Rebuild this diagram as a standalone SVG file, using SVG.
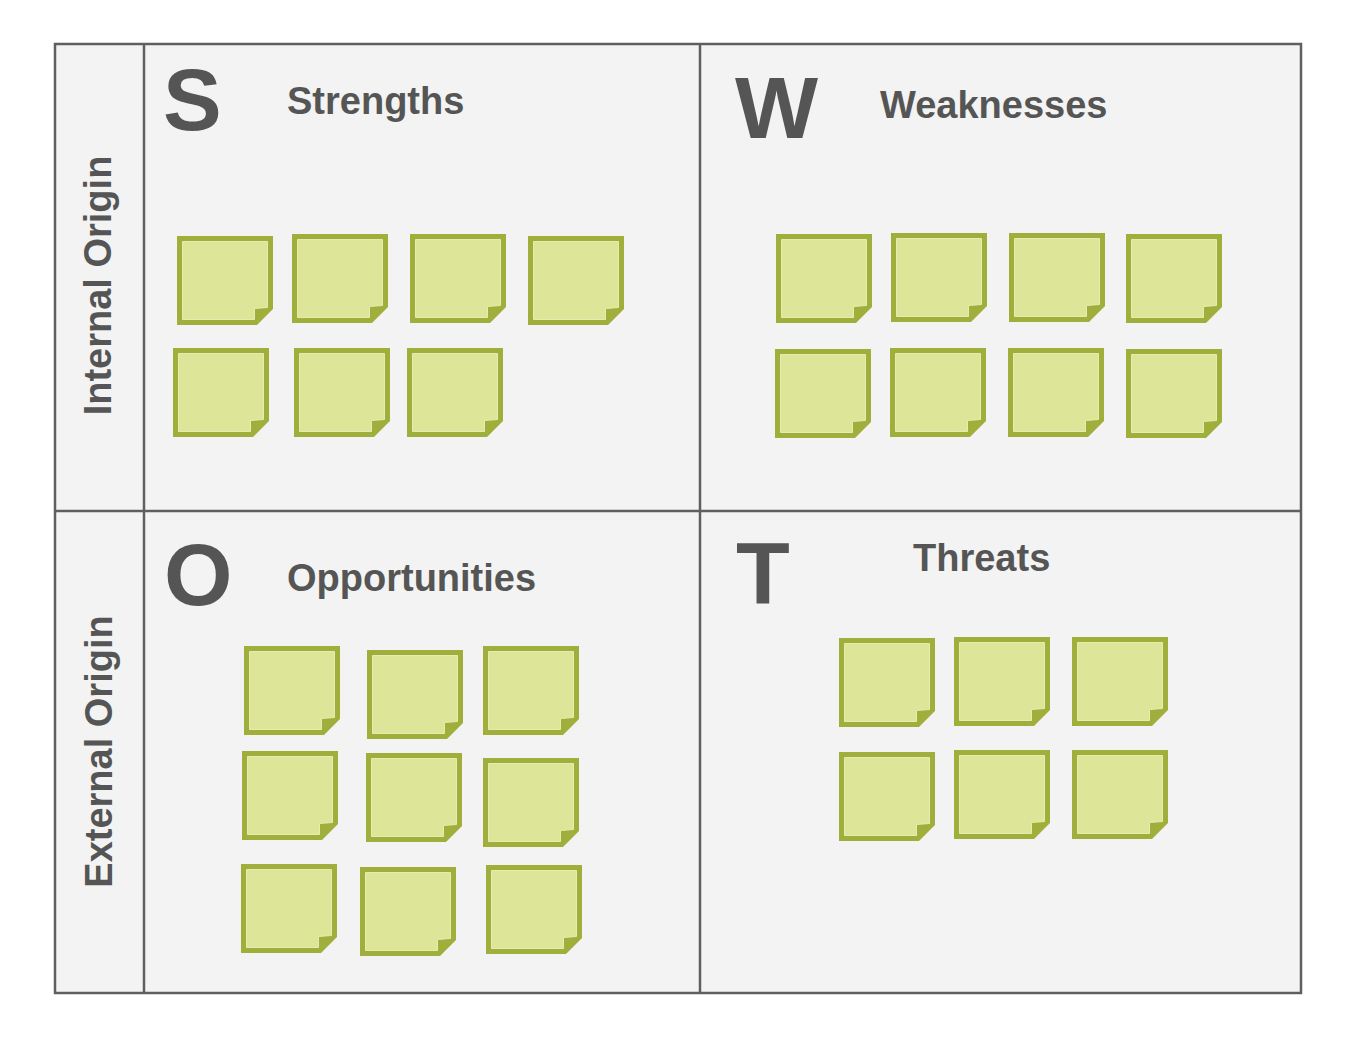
<svg xmlns="http://www.w3.org/2000/svg" width="1346" height="1042" viewBox="0 0 1346 1042">
<style>
.bg{fill:#ffffff}
.cell{fill:#f2f3f2}
.grid{stroke:#5f5f5f;stroke-width:2.5;fill:none}
.big{font-family:"Liberation Sans",Arial,sans-serif;font-weight:bold;font-size:88px;fill:#555555}
.title{font-family:"Liberation Sans",Arial,sans-serif;font-weight:bold;font-size:38px;fill:#555555}
.side{font-family:"Liberation Sans",Arial,sans-serif;font-weight:bold;font-size:38px;fill:#555555;text-anchor:middle}
.nout{fill:#a0af3b}
.nin{fill:#dde698;stroke:#e5ecb0;stroke-width:1}
</style>
<defs>
<g id="note">
<path class="nout" d="M0,0 H96 V73 L80,89 H0 Z"/>
<path class="nin" d="M5.5,5.5 H90.5 V71.5 L77.5,72.5 V83.5 H5.5 Z"/>
</g>
</defs>
<rect class="bg" x="0" y="0" width="1346" height="1042"/>
<g id="frame">
<rect class="cell" x="55" y="44" width="1246" height="949"/>
</g>
<g id="labels">
<g id="internal-origin"><text class="side" transform="translate(111,285.5) rotate(-90)">Internal Origin</text></g>
<g id="external-origin"><text class="side" transform="translate(112,751.5) rotate(-90)">External Origin</text></g>
</g>
<g id="strengths">
<text class="big" x="163" y="130">S</text>
<text class="title" x="287" y="114">Strengths</text>
<use href="#note" x="177" y="236"/>
<use href="#note" x="292" y="234"/>
<use href="#note" x="410" y="234"/>
<use href="#note" x="528" y="236"/>
<use href="#note" x="173" y="348"/>
<use href="#note" x="294" y="348"/>
<use href="#note" x="407" y="348"/>
</g>
<g id="weaknesses">
<text class="big" x="735" y="138">W</text>
<text class="title" x="880" y="118">Weaknesses</text>
<use href="#note" x="776" y="234"/>
<use href="#note" x="891" y="233"/>
<use href="#note" x="1009" y="233"/>
<use href="#note" x="1126" y="234"/>
<use href="#note" x="775" y="349"/>
<use href="#note" x="890" y="348"/>
<use href="#note" x="1008" y="348"/>
<use href="#note" x="1126" y="349"/>
</g>
<g id="opportunities">
<text class="big" x="164" y="605">O</text>
<text class="title" x="287" y="591">Opportunities</text>
<use href="#note" x="244" y="646"/>
<use href="#note" x="367" y="650"/>
<use href="#note" x="483" y="646"/>
<use href="#note" x="242" y="751"/>
<use href="#note" x="366" y="753"/>
<use href="#note" x="483" y="758"/>
<use href="#note" x="241" y="864"/>
<use href="#note" x="360" y="867"/>
<use href="#note" x="486" y="865"/>
</g>
<g id="threats">
<text class="big" x="736" y="603">T</text>
<text class="title" x="913" y="571">Threats</text>
<use href="#note" x="839" y="638"/>
<use href="#note" x="954" y="637"/>
<use href="#note" x="1072" y="637"/>
<use href="#note" x="839" y="752"/>
<use href="#note" x="954" y="750"/>
<use href="#note" x="1072" y="750"/>
</g>
<g id="connectors">
<rect class="grid" x="55" y="44" width="1246" height="949"/>
<line class="grid" x1="144" y1="44" x2="144" y2="993"/>
<line class="grid" x1="700" y1="44" x2="700" y2="993"/>
<line class="grid" x1="55" y1="511" x2="1301" y2="511"/>
</g>
</svg>
